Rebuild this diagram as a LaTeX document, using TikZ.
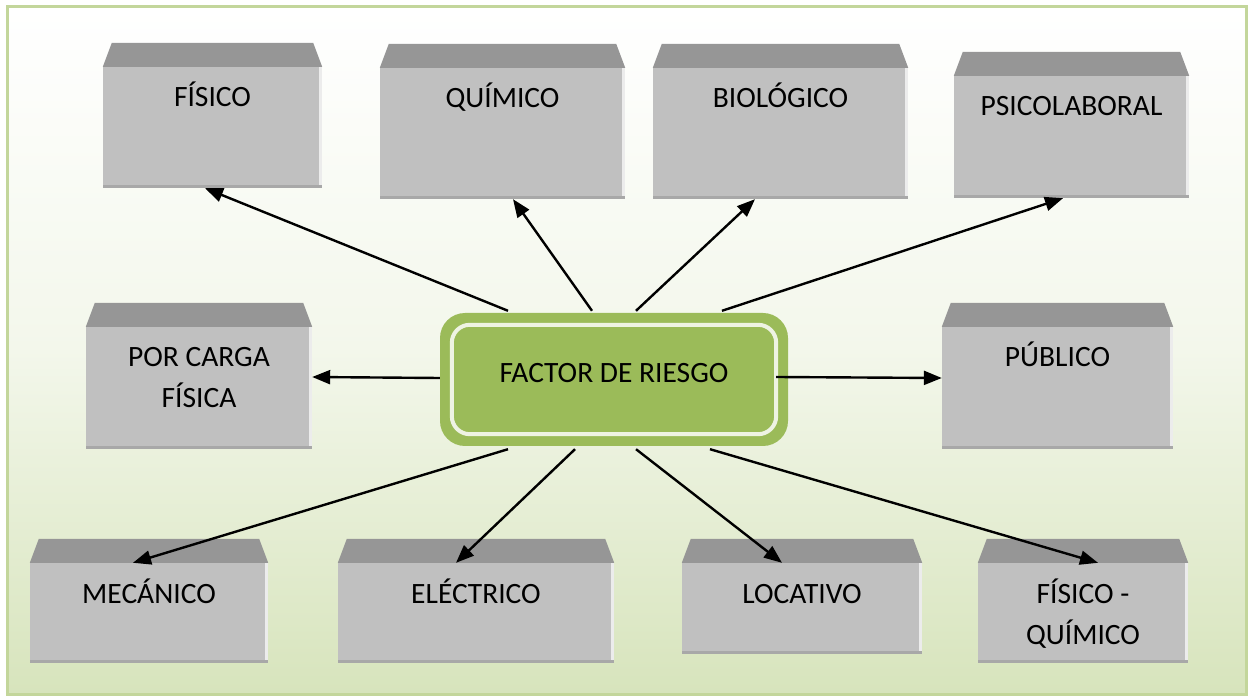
\documentclass[tikz,border=0pt]{standalone}
\usepackage{fontspec}
\setmainfont{Carlito}
\usepackage{tikz}
\usepackage{xcolor}
\usetikzlibrary{arrows.meta}

\definecolor{framegreen}{HTML}{C3D69B}
\definecolor{shadegreen}{HTML}{D7E4BC}
\definecolor{boxgray}{HTML}{C0C0C0}
\definecolor{lidgray}{HTML}{969696}
\definecolor{rimgray}{HTML}{A8A8A8}
\definecolor{riskgreen}{HTML}{9BBB59}
\definecolor{ringwhite}{HTML}{EEF3E3}

\begin{document}
\begin{tikzpicture}[x=1pt, y=-1pt,
		riskbox/.style={fill=boxgray, inner sep=0pt, align=center, text height=40pt, font=\fontsize{29.5}{41}\selectfont},
		riskctr/.style={fill=riskgreen, rounded corners=25pt, minimum width=348pt, minimum height=133pt, inner sep=0pt, text height=18pt, text depth=11pt, font=\fontsize{29.5}{34}\selectfont},
		link/.style={-{Triangle[length=18pt,width=14pt]}, line width=2.4pt}]
		\useasboundingbox (0,0) rectangle (1251,700);
		% frame
		\draw [framegreen, line width=3pt, top color=white, bottom color=shadegreen, middle color=white!70!shadegreen] (7,7) rectangle (1246,694);

		% boxes
		\node [riskbox, minimum width=219pt, text depth=81pt] (fis) at (212.5,127.5) {FÍSICO};
		\node [riskbox, minimum width=245pt, text depth=91pt] (qui) at (502.5,133.5) {QUÍMICO};
		\node [riskbox, minimum width=255pt, text depth=91pt] (bio) at (780.5,133.5) {BIOLÓGICO};
		\node [riskbox, minimum width=235pt, text depth=82pt] (psi) at (1071.5,137) {PSICOLABORAL};
		\node [riskbox, minimum width=226pt, text height=81pt, text depth=41pt] (car) at (199,388) {POR CARGA\\FÍSICA};
		\node [riskbox, minimum width=231pt, text depth=82pt] (pub) at (1057.5,388) {PÚBLICO};
		\node [riskbox, minimum width=238pt, text depth=60pt] (mec) at (149,613) {MECÁNICO};
		\node [riskbox, minimum width=276pt, text depth=60pt] (ele) at (476,613) {ELÉCTRICO};
		\node [riskbox, minimum width=240pt, text depth=51pt] (loc) at (802,608.5) {LOCATIVO};
		\node [riskbox, minimum width=210pt, text height=81pt, text depth=19pt] (fq) at (1083,613) {FÍSICO -\\QUÍMICO};

		\foreach \n in {fis,qui,bio,psi,car,pub,mec,ele,loc,fq} {
			\fill [lidgray] (\n.north west) -- ([xshift=9pt,yshift=24pt]\n.north west) -- ([xshift=-9pt,yshift=24pt]\n.north east) -- (\n.north east) -- cycle;
			\fill [white!70!boxgray] ([xshift=-3pt]\n.north east) rectangle (\n.south east);
			\fill [rimgray] ([yshift=3pt]\n.south west) rectangle (\n.south east);
		}

		% centre
		\node [riskctr] (ctr) at (614,379.5) {FACTOR DE RIESGO};
		\draw [ringwhite, line width=4pt, rounded corners=18pt] ([xshift=12pt,yshift=-12pt]ctr.north west) rectangle ([xshift=-12pt,yshift=12pt]ctr.south east);

		% arrows
		\draw [link] ([xshift=-106pt,yshift=2pt]ctr.north) -- ([xshift=-7.5pt]fis.south);
		\draw [link] ([xshift=-22pt,yshift=2pt]ctr.north) -- ([xshift=10.5pt]qui.south);
		\draw [link] ([xshift=22pt,yshift=2pt]ctr.north) -- ([xshift=-25.5pt]bio.south);
		\draw [link] ([xshift=108pt,yshift=2pt]ctr.north) -- ([xshift=-8.5pt]psi.south);
		\draw [link] ([yshift=1.5pt]ctr.west) -- ([yshift=11pt]car.east);
		\draw [link] ([xshift=-12pt,yshift=2.5pt]ctr.east) -- ([yshift=10pt]pub.west);
		\draw [link] ([xshift=-106pt,yshift=-3pt]ctr.south) -- ([xshift=-16pt]mec.north);
		\draw [link] ([xshift=-39pt,yshift=-3pt]ctr.south) -- ([xshift=-20pt]ele.north);
		\draw [link] ([xshift=22pt,yshift=-3pt]ctr.south) -- ([xshift=-20pt]loc.north);
		\draw [link] ([xshift=96pt,yshift=-3pt]ctr.south) -- ([xshift=15pt]fq.north);
\end{tikzpicture}
\end{document}
